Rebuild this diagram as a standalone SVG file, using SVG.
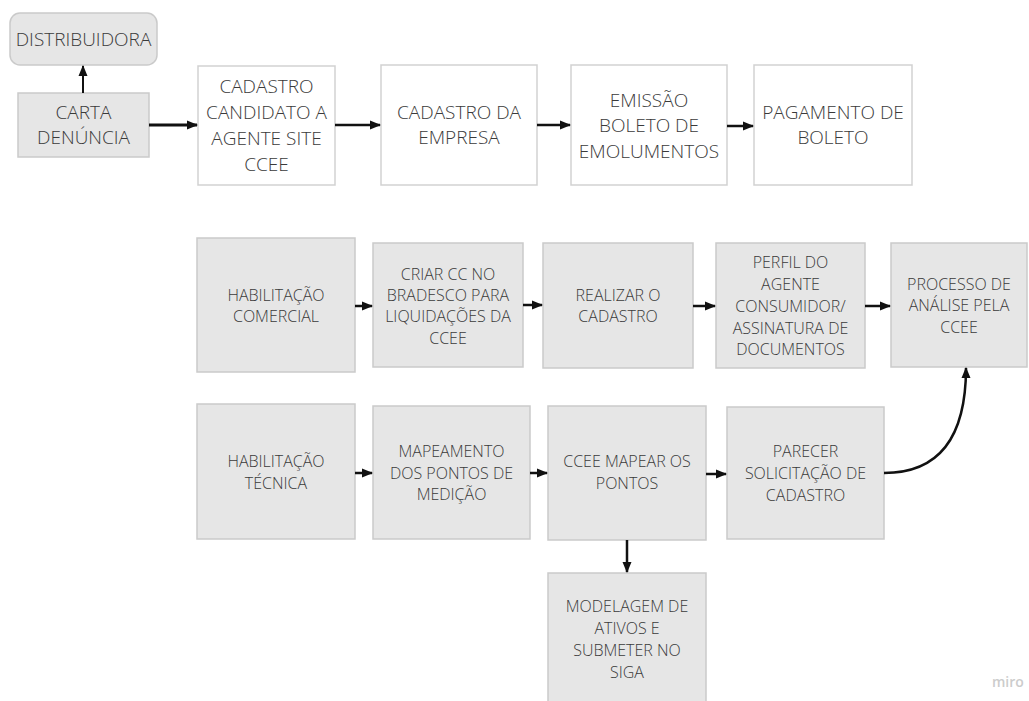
<svg xmlns="http://www.w3.org/2000/svg" width="1029" height="701" viewBox="0 0 1029 701">
  <style>
    .box { fill: #ffffff; stroke: #d2d2d2; stroke-width: 1.5; }
    .grey { fill: #e6e6e6; stroke: #cacaca; stroke-width: 1.5; }
    .big { font-family: "Open Sans", "Noto Sans", sans-serif; font-size: 19px; font-weight: 300; fill: #3a3a3a; text-anchor: middle; }
    .small { font-family: "Open Sans", "Noto Sans", sans-serif; font-size: 16px; font-weight: 300; fill: #3a3a3a; text-anchor: middle; }
    .link { fill: none; stroke: #111111; stroke-width: 2.5; marker-end: url(#head); }
    .brand { font-family: "Open Sans", "Noto Sans", sans-serif; font-size: 14px; font-weight: 600; fill: #cccccc; }
  </style>
  <defs>
    <marker id="head" markerUnits="userSpaceOnUse" markerWidth="12" markerHeight="10" refX="10" refY="5" orient="auto">
      <path d="M0,0.5 L11,5 L0,9.5 Z" fill="#111111"/>
    </marker>
  </defs>
  <rect width="1029" height="701" fill="#ffffff"/>

  <!-- top row -->
  <g id="distribuidora">
    <rect class="grey" x="10" y="13" width="147" height="52" rx="10"/>
    <text class="big" x="83.5" y="45.5">DISTRIBUIDORA</text>
  </g>
  <g id="carta-denuncia">
    <rect class="grey" x="18" y="93" width="131" height="64"/>
    <text class="big" x="83.5" y="118.5">CARTA</text>
    <text class="big" x="83.5" y="143.5">DENÚNCIA</text>
  </g>
  <g id="cadastro-candidato">
    <rect class="box" x="198" y="66" width="137" height="119"/>
    <text class="big" x="266.5" y="92.5">CADASTRO</text>
    <text class="big" x="266.5" y="118.5">CANDIDATO A</text>
    <text class="big" x="266.5" y="144.5">AGENTE SITE</text>
    <text class="big" x="266.5" y="170.5">CCEE</text>
  </g>
  <g id="cadastro-empresa">
    <rect class="box" x="381" y="65" width="156" height="120"/>
    <text class="big" x="459" y="118.5">CADASTRO DA</text>
    <text class="big" x="459" y="144">EMPRESA</text>
  </g>
  <g id="emissao-boleto">
    <rect class="box" x="571" y="65" width="156" height="120"/>
    <text class="big" x="649" y="106.5">EMISSÃO</text>
    <text class="big" x="649" y="132">BOLETO DE</text>
    <text class="big" x="649" y="157.5">EMOLUMENTOS</text>
  </g>
  <g id="pagamento-boleto">
    <rect class="box" x="754" y="65" width="158" height="120"/>
    <text class="big" x="833" y="118.5">PAGAMENTO DE</text>
    <text class="big" x="833" y="143.5">BOLETO</text>
  </g>

  <!-- commercial row -->
  <g id="habilitacao-comercial">
    <rect class="grey" x="197" y="238" width="158" height="134"/>
    <text class="small" x="276" y="300.5">HABILITAÇÃO</text>
    <text class="small" x="276" y="322">COMERCIAL</text>
  </g>
  <g id="criar-cc">
    <rect class="grey" x="373" y="243" width="150" height="124"/>
    <text class="small" x="448" y="279.5">CRIAR CC NO</text>
    <text class="small" x="448" y="300.5">BRADESCO PARA</text>
    <text class="small" x="448" y="322">LIQUIDAÇÕES DA</text>
    <text class="small" x="448" y="343.5">CCEE</text>
  </g>
  <g id="realizar-cadastro">
    <rect class="grey" x="543" y="243" width="150" height="125"/>
    <text class="small" x="618" y="300.5">REALIZAR O</text>
    <text class="small" x="618" y="322">CADASTRO</text>
  </g>
  <g id="perfil-agente">
    <rect class="grey" x="716" y="243" width="149" height="125"/>
    <text class="small" x="790.5" y="267.5">PERFIL DO</text>
    <text class="small" x="790.5" y="290">AGENTE</text>
    <text class="small" x="790.5" y="312">CONSUMIDOR/</text>
    <text class="small" x="790.5" y="333.5">ASSINATURA DE</text>
    <text class="small" x="790.5" y="355">DOCUMENTOS</text>
  </g>
  <g id="processo-analise">
    <rect class="grey" x="891" y="243" width="136" height="124"/>
    <text class="small" x="959" y="289.5">PROCESSO DE</text>
    <text class="small" x="959" y="311">ANÁLISE PELA</text>
    <text class="small" x="959" y="333">CCEE</text>
  </g>

  <!-- technical row -->
  <g id="habilitacao-tecnica">
    <rect class="grey" x="197" y="404" width="158" height="135"/>
    <text class="small" x="276" y="467">HABILITAÇÃO</text>
    <text class="small" x="276" y="488.5">TÉCNICA</text>
  </g>
  <g id="mapeamento-pontos">
    <rect class="grey" x="373" y="406" width="157" height="133"/>
    <text class="small" x="451.5" y="457">MAPEAMENTO</text>
    <text class="small" x="451.5" y="478.5">DOS PONTOS DE</text>
    <text class="small" x="451.5" y="500">MEDIÇÃO</text>
  </g>
  <g id="ccee-mapear">
    <rect class="grey" x="548" y="406" width="158" height="134"/>
    <text class="small" x="627" y="467">CCEE MAPEAR OS</text>
    <text class="small" x="627" y="488.5">PONTOS</text>
  </g>
  <g id="parecer">
    <rect class="grey" x="727" y="407" width="157" height="132"/>
    <text class="small" x="805.5" y="457">PARECER</text>
    <text class="small" x="805.5" y="479">SOLICITAÇÃO DE</text>
    <text class="small" x="805.5" y="501">CADASTRO</text>
  </g>
  <g id="modelagem-ativos">
    <rect class="grey" x="548" y="573" width="158" height="130"/>
    <text class="small" x="627" y="612">MODELAGEM DE</text>
    <text class="small" x="627" y="634">ATIVOS E</text>
    <text class="small" x="627" y="656">SUBMETER NO</text>
    <text class="small" x="627" y="678">SIGA</text>
  </g>

  <!-- connectors -->
  <g id="connectors">
    <path class="link" style="stroke-width:2" d="M83,93 L83,66"/>
    <path class="link" style="stroke-width:3" d="M149,125 L197,125"/>
    <path class="link" d="M335,125 L380,125"/>
    <path class="link" d="M537,125 L570,125"/>
    <path class="link" d="M727,126 L753,126"/>
    <path class="link" d="M355,306 L372,306"/>
    <path class="link" d="M523,305 L542,305"/>
    <path class="link" d="M693,306 L715,306"/>
    <path class="link" d="M865,306 L890,306"/>
    <path class="link" d="M355,473 L372,473"/>
    <path class="link" d="M530,473 L547,473"/>
    <path class="link" d="M706,474 L726,474"/>
    <path class="link" d="M884,473 C945,473 966,430 966,368"/>
    <path class="link" d="M627,540 L627,572"/>
  </g>

  <text class="brand" x="992" y="687">miro</text>
</svg>
